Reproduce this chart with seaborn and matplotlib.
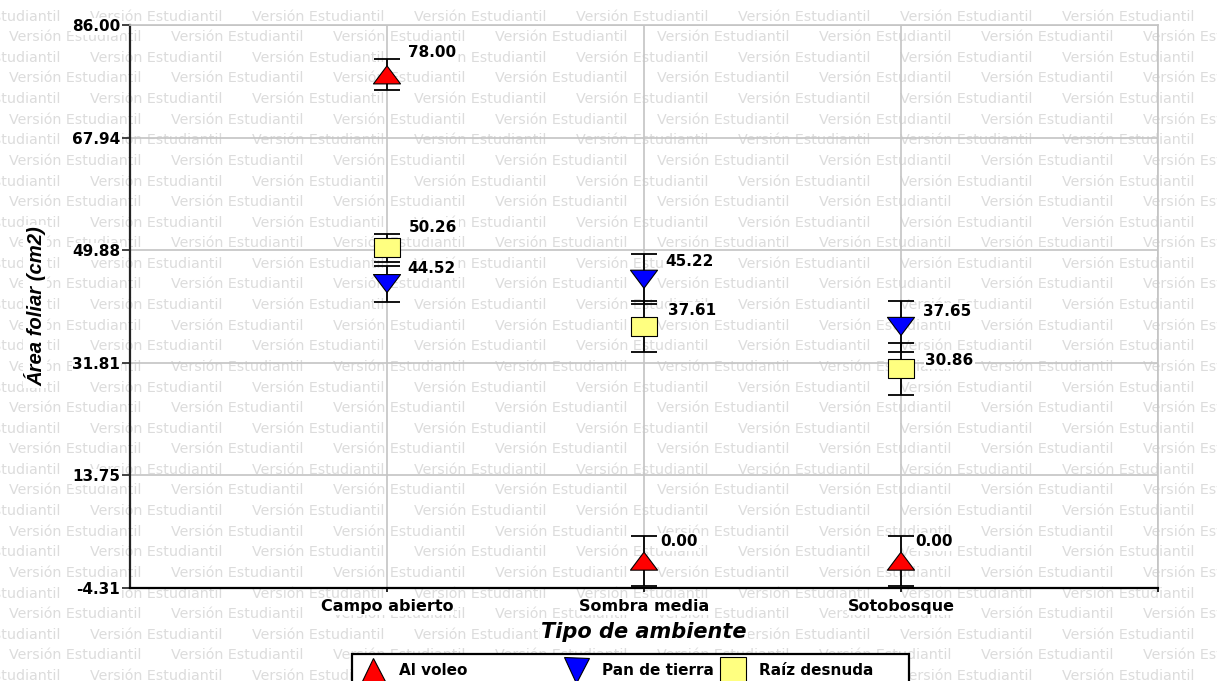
import numpy as np
import pandas as pd
import matplotlib
matplotlib.use("Agg")
import matplotlib.pyplot as plt
from matplotlib.lines import Line2D
from matplotlib.path import Path
import seaborn as sns

# ---- data -------------------------------------------------------------
ambientes = ["Campo abierto", "Sombra media", "Sotobosque"]
metodos = ["Al voleo", "Pan de tierra", "Raíz desnuda"]

al_voleo = [78.00, 0.00, 0.00]
al_voleo_ee = [2.5, 4.0, 4.0]
pan_de_tierra = [44.52, 45.22, 37.65]
pan_de_tierra_ee = [2.9, 4.0, 4.1]
raiz_desnuda = [50.26, 37.61, 30.86]
raiz_desnuda_ee = [2.2, 4.1, 4.2]

y_ticks = [-4.31, 13.75, 31.81, 49.88, 67.94, 86.00]

medias = {"Al voleo": al_voleo, "Pan de tierra": pan_de_tierra, "Raíz desnuda": raiz_desnuda}
errores = {"Al voleo": al_voleo_ee, "Pan de tierra": pan_de_tierra_ee, "Raíz desnuda": raiz_desnuda_ee}

rows = []
for m in metodos:
    for i, amb in enumerate(ambientes):
        rows.append({"método": m, "ambiente": amb, "pos": i + 1,
                     "area": medias[m][i], "ee": errores[m][i]})
df = pd.DataFrame(rows)

# ---- style --------------------------------------------------------------
sns.set_style("white")
plt.rcParams["font.family"] = ["DejaVu Sans"]
plt.rcParams.update({"text.color": "black", "axes.labelcolor": "black",
                     "xtick.color": "black", "ytick.color": "black"})

W, H = 1217, 681
fig = plt.figure(figsize=(W / 100, H / 100), dpi=100)
ax = fig.add_axes([130 / W, 1 - 588 / H, (1158 - 130) / W, (588 - 25) / H])
ax.set_facecolor("none")

# background watermark rows
row_h, period = 20.6, 162
for r in range(int(H / row_h) + 2):
    yc = 16.7 + r * row_h
    x = 9 + (81 if r % 2 == 0 else 0) - period
    while x < W:
        fig.text(x / W, 1 - yc / H, "Versión Estudiantil", fontsize=10.3,
                 color="#dcdcdc", ha="left", va="center", zorder=-5)
        x += period

# marker shapes
def poly(verts):
    v = np.array(verts + [verts[0]], dtype=float)
    return Path(v, closed=True)

tri_up = poly([(-1.5, -1), (1.5, -1), (0, 1)])
tri_dn = poly([(-1.5, 1), (1.5, 1), (0, -1)])
rect = poly([(-1.3, -1), (1.3, -1), (1.3, 1), (-1.3, 1)])

colores = {"Al voleo": "#ff0000", "Pan de tierra": "#0000ff", "Raíz desnuda": "#ffff80"}
formas = {"Al voleo": tri_up, "Pan de tierra": tri_dn, "Raíz desnuda": rect}
tamanos = {"Al voleo": 380, "Pan de tierra": 380, "Raíz desnuda": 325}

# error bars
for m in metodos:
    sub = df[df["método"] == m]
    ax.errorbar(sub["pos"], sub["area"], yerr=sub["ee"], fmt="none",
                ecolor="black", elinewidth=1.3, capsize=9.6, capthick=1.3, zorder=2)

sns.scatterplot(data=df, x="pos", y="area", hue="método", style="método",
                size="método", palette=colores, markers=formas, sizes=tamanos,
                edgecolor="black", linewidth=0.8, legend=False, zorder=3, ax=ax)

# value labels (offsets in pixels)
desplaz = {"Al voleo": [(21, 22), (16, 19.5), (14, 19.5)],
           "Pan de tierra": [(20, 14.6), (21, 17.5), (22, 14.7)],
           "Raíz desnuda": [(22, 20), (24, 15.7), (24, 8.7)]}
blanco = dict(facecolor="white", edgecolor="none", pad=1)
for m in metodos:
    for i in range(len(ambientes)):
        v = medias[m][i]
        dx, dy = desplaz[m][i]
        ax.annotate(f"{v:.2f}", (i + 1, v), xytext=(dx, dy), textcoords="offset pixels",
                    ha="left", va="center", fontsize=11, fontweight="bold",
                    color="black", bbox=blanco, zorder=4)

# axes
ax.set_xlim(0, 4)
ax.set_ylim(y_ticks[0], y_ticks[-1])
ax.set_yticks(y_ticks)
ax.set_yticklabels([f"{t:.2f}" for t in y_ticks], fontsize=11, fontweight="bold")
ax.set_xticks([1, 2, 3, 4])
ax.set_xticklabels(ambientes + [""], fontsize=11.5, fontweight="bold")
for lab in ax.get_yticklabels() + ax.get_xticklabels():
    lab.set_bbox(dict(facecolor="white", edgecolor="none", pad=0.5))

ax.grid(True, color="#c4c4c4", lw=1.2)
ax.set_axisbelow(True)
for s in ["top", "right"]:
    ax.spines[s].set_color("#c4c4c4")
    ax.spines[s].set_linewidth(1.2)
ax.spines["left"].set_color("#222222")
ax.spines["left"].set_linewidth(1.6)
ax.spines["bottom"].set_color("black")
ax.spines["bottom"].set_linewidth(1.6)
ax.tick_params(axis="y", left=True, direction="out", length=6, width=1.2, color="#222222", pad=1)
ax.tick_params(axis="x", bottom=True, direction="out", length=3, width=1.2, color="black", pad=5)

ax.set_xlabel("Tipo de ambiente", fontsize=15, fontweight="bold", fontstyle="italic",
              bbox=dict(facecolor="white", edgecolor="none", pad=1))
ax.xaxis.set_label_coords(0.5, (588 - 632) / 563)
ax.xaxis.label.set_va("center")
ax.set_ylabel("Área foliar (cm2)", fontsize=14.6, fontweight="bold", fontstyle="italic",
              family=["Liberation Sans", "DejaVu Sans"],
              bbox=dict(facecolor="white", edgecolor="none", pad=1))
ax.yaxis.set_label_coords((35 - 130) / 1028, 0.5)
ax.yaxis.label.set_va("center")

# legend (trailing spaces widen the first and last columns)
handles = [Line2D([], [], ls="none", marker="^", ms=18, mfc="#ff0000", mec="black", mew=0.8),
           Line2D([], [], ls="none", marker="v", ms=18, mfc="#0000ff", mec="black", mew=0.8),
           Line2D([], [], ls="none", marker="s", ms=19, mfc="#ffff80", mec="black", mew=0.8)]
etiquetas = [metodos[0] + " " * 17, metodos[1], metodos[2] + " " * 5]
leg = fig.legend(handles, etiquetas, loc="upper left", bbox_to_anchor=(352 / W, 1 - 654 / H),
                 borderaxespad=0, ncol=3, frameon=True, fancybox=False, edgecolor="black",
                 framealpha=1, prop=dict(weight="bold", size=11), handlelength=1.6,
                 handletextpad=0.9, columnspacing=0.46, borderpad=0.6)
leg.get_frame().set_linewidth(1.6)

fig.savefig("out.png", dpi=100)
